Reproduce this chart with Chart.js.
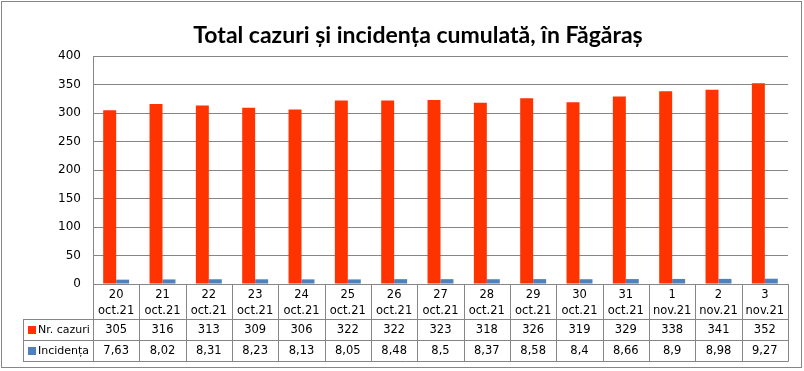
<!DOCTYPE html>
<html>
<head>
<meta charset="utf-8">
<script src="https://cdn.jsdelivr.net/npm/chart.js@4"></script>
<style>
html,body{margin:0;padding:0;background:#fff;}
#wrap{position:relative;width:804px;height:371px;}
</style>
</head>
<body>
<div id="wrap"><canvas id="c" width="804" height="371"></canvas></div>
<script>
const titleText = 'Total cazuri și incidența cumulată, în Făgăraș';
const days = ['20','21','22','23','24','25','26','27','28','29','30','31','1','2','3'];
const months = ['oct.21','oct.21','oct.21','oct.21','oct.21','oct.21','oct.21','oct.21','oct.21','oct.21','oct.21','oct.21','nov.21','nov.21','nov.21'];
const cazuri = [305,316,313,309,306,322,322,323,318,326,319,329,338,341,352];
const incidenta = [7.63,8.02,8.31,8.23,8.13,8.05,8.48,8.5,8.37,8.58,8.4,8.66,8.9,8.98,9.27];
const seriesNames = ['Nr. cazuri','Incidența'];
const yTicks = [0,50,100,150,200,250,300,350,400];

const RED = '#FF3300', BLUE = '#4F81BD', GRID = '#868686';
const labels = days.map((d,i)=>[d, months[i]]);
const fmt = v => String(v).replace('.', ',');

const tablePlugin = {
  id: 'dataTable',
  afterDraw(chart) {
    const ctx = chart.ctx;
    const x = chart.scales.x, ca = chart.chartArea;
    const n = labels.length;
    const w = (ca.right - ca.left) / n;
    const top = ca.bottom, r1 = 319, r2 = 340, r3 = 361, legL = 23;
    ctx.save();
    // title
    ctx.fillStyle = '#000';
    ctx.font = 'bold 23px Lato';
    ctx.textAlign = 'center'; ctx.textBaseline = 'middle';
    ctx.fillText(titleText, 418, 36);
    ctx.strokeStyle = GRID; ctx.lineWidth = 1;
    ctx.beginPath();
    [r1, r2, r3].forEach(yy => { ctx.moveTo(legL, yy + .5); ctx.lineTo(ca.right + .5, yy + .5); });
    for (let i = 0; i <= n; i++) {
      const xx = Math.round(ca.left + i * w) + .5;
      ctx.moveTo(xx, top); ctx.lineTo(xx, r3 + .5);
    }
    ctx.moveTo(legL + .5, r1); ctx.lineTo(legL + .5, r3 + .5);
    ctx.stroke();
    ctx.strokeRect(1.5, 1.5, 800, 366);
    ctx.fillStyle = '#000';
    ctx.font = '11.5px "DejaVu Sans"';
    for (let i = 0; i < n; i++) {
      const cx = x.getPixelForValue(i);
      ctx.fillText(days[i], cx, 295);
      ctx.fillText(months[i], cx, 311);
      ctx.fillText(fmt(cazuri[i]), cx, 330);
      ctx.fillText(fmt(incidenta[i]), cx, 351);
    }
    ctx.textAlign = 'left';
    ctx.font = '11px "DejaVu Sans"';
    const cols = [RED, BLUE], ys = [330, 351];
    seriesNames.forEach((s, k) => {
      ctx.fillStyle = cols[k];
      ctx.fillRect(28, ys[k] - 4, 8, 8);
      ctx.fillStyle = '#000';
      ctx.fillText(s, 38, ys[k]);
    });
    ctx.restore();
  }
};

new Chart(document.getElementById('c'), {
  type: 'bar',
  data: {
    labels: labels,
    datasets: [
      { label: seriesNames[0], data: cazuri, backgroundColor: RED, categoryPercentage: 0.56, barPercentage: 1.0 },
      { label: seriesNames[1], data: incidenta, backgroundColor: BLUE, categoryPercentage: 0.56, barPercentage: 1.0 }
    ]
  },
  options: {
    responsive: false,
    animation: false,
    layout: { padding: { left: 0, right: 16, top: 56, bottom: 87 } },
    plugins: {
      legend: { display: false },
      tooltip: { enabled: false },
      title: { display: false }
    },
    scales: {
      x: {
        ticks: { display: false },
        grid: { display: false, drawTicks: false },
        border: { color: GRID }
      },
      y: {
        min: 0, max: 400,
        afterBuildTicks: s => { s.ticks = yTicks.map(v => ({ value: v })); },
        afterFit: s => { s.width = 93; },
        ticks: { color: '#000', padding: 12, font: { family: 'DejaVu Sans', size: 12 } },
        grid: { color: GRID, drawTicks: false },
        border: { color: GRID }
      }
    }
  },
  plugins: [tablePlugin]
});
</script>
</body>
</html>
